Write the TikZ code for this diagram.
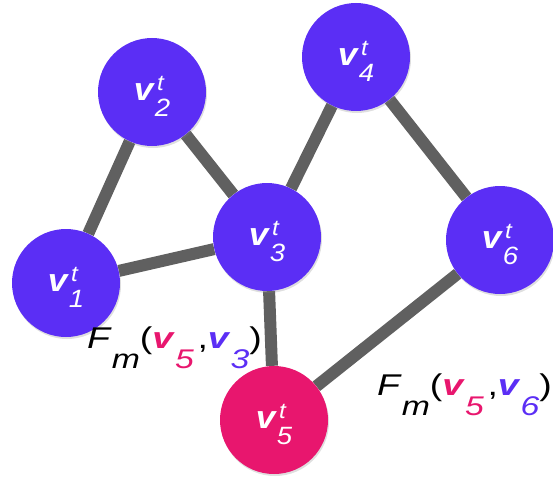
\documentclass[tikz,border=0pt]{standalone}
\usepackage{fontspec}
\setmainfont{Liberation Sans}
\usepackage{xcolor}
\usetikzlibrary{backgrounds,shadows}
\definecolor{GraphPurple}{HTML}{5B2EF5}
\definecolor{GraphPink}{HTML}{E8166E}
\definecolor{GraphEdge}{HTML}{606060}
% vertex label: bold v, superscript t, subscript index
\newcommand{\vnode}[1]{\scalebox{1.1}[1]{\textbf{\textit{v}}\rlap{\smash{\raisebox{9.5pt}{\fontsize{22}{22}\selectfont\itshape\hspace{2pt}t}}}\smash{\raisebox{-16.5pt}{\fontsize{25}{25}\selectfont\itshape #1}}}}
\newcommand{\vsub}[2]{\textcolor{#1}{\textbf{\textit{v}}\raisebox{-20pt}{\fontsize{27}{27}\selectfont\itshape #2}}}
\newcommand{\fmlab}[1]{\scalebox{1.25}[1]{\textit{F}\raisebox{-20pt}{\fontsize{27}{27}\selectfont\itshape m}(\vsub{GraphPink}{5}\hspace{3pt},\vsub{GraphPurple}{#1})}}
\begin{document}
\begin{tikzpicture}[x=1pt,y=-1pt,
  vert/.style={circle,fill=GraphPurple,minimum size=108pt,inner sep=0pt,text=white,
    font=\fontsize{32}{32}\selectfont,drop shadow={opacity=.25,shadow xshift=1pt,shadow yshift=-2pt}},
  link/.style={line width=12pt,GraphEdge},
  flab/.style={font=\fontsize{30}{30}\selectfont,inner sep=0pt}]
\useasboundingbox (0,0) rectangle (553,476);
\node[vert] (v1) at (66,283) {\vnode{1}};
\node[vert] (v2) at (152,92) {\vnode{2}};
\node[vert] (v3) at (267,237) {\vnode{3}};
\node[vert] (v4) at (356,57) {\vnode{4}};
\node[vert] (v6) at (500,240) {\vnode{6}};
\node[vert,fill=GraphPink] (v5) at (274,420) {\vnode{5}};
\begin{scope}[on background layer]
\draw[link] (v1) -- (v2);
\draw[link] (v2) -- (v3);
\draw[link] (v1) -- (v3);
\draw[link] (v3) -- (v4);
\draw[link] (v4) -- (v6);
\draw[link] (v3) -- (v5);
\draw[link] (v5) -- (v6);
\end{scope}
% edge labels
\node[flab,anchor=base west] (f53) at (87,348) {\fmlab{3}};
\node[flab,anchor=base west] (f56) at (377,395) {\fmlab{6}};
\end{tikzpicture}
\end{document}
